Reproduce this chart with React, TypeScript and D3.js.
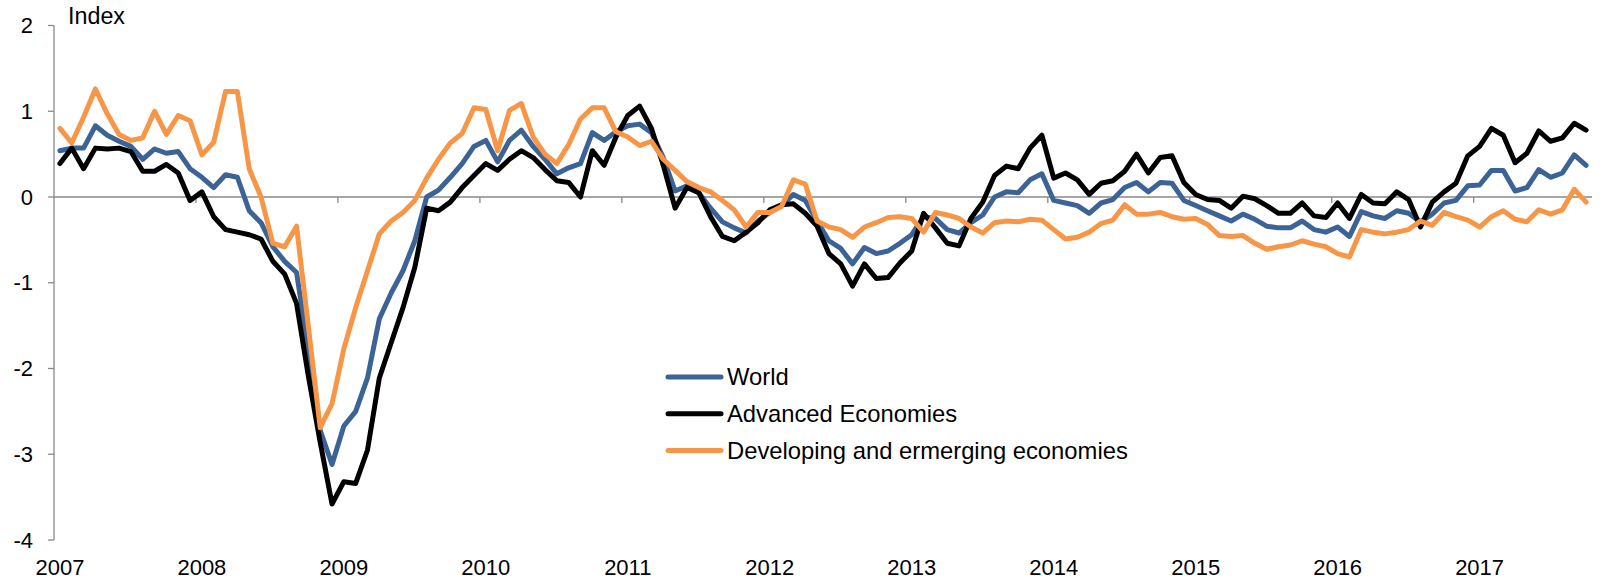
import React from "react";
import * as d3 from "d3";

// monthly index, Jan 2007 .. Oct 2017
const years = ["2007", "2008", "2009", "2010", "2011", "2012", "2013", "2014", "2015", "2016", "2017"];
const yTicks = [2, 1, 0, -1, -2, -3, -4];

const world = [
  0.54, 0.57, 0.57, 0.83, 0.72, 0.65, 0.59, 0.44, 0.56, 0.51, 0.53, 0.33,
  0.23, 0.11, 0.26, 0.23, -0.16, -0.3, -0.58, -0.75, -0.88, -1.78, -2.72, -3.12,
  -2.67, -2.5, -2.11, -1.42, -1.12, -0.86, -0.51, 0.0, 0.08, 0.23, 0.39, 0.59,
  0.66, 0.41, 0.66, 0.78, 0.59, 0.44, 0.27, 0.34, 0.39, 0.75, 0.66, 0.76,
  0.83, 0.85, 0.75, 0.46, 0.07, 0.13, 0.05, -0.13, -0.29, -0.36, -0.42, -0.28,
  -0.18, -0.1, 0.03, -0.04, -0.28, -0.51, -0.6, -0.78, -0.59, -0.66, -0.63, -0.54,
  -0.44, -0.23, -0.25, -0.38, -0.42, -0.3, -0.21, 0.0, 0.06, 0.05, 0.2, 0.27,
  -0.04, -0.07, -0.1, -0.19, -0.07, -0.03, 0.11, 0.17, 0.06, 0.17, 0.16, -0.04,
  -0.1, -0.16, -0.22, -0.28, -0.2, -0.26, -0.34, -0.36, -0.36, -0.28, -0.38, -0.41,
  -0.35, -0.46, -0.17, -0.22, -0.25, -0.16, -0.19, -0.29, -0.2, -0.07, -0.04, 0.13,
  0.14, 0.31, 0.31, 0.07, 0.11, 0.32, 0.23, 0.28, 0.49, 0.37,
];

const advanced = [
  0.39, 0.57, 0.33, 0.57, 0.56, 0.57, 0.53, 0.3, 0.3, 0.38, 0.28, -0.04,
  0.06, -0.23, -0.38, -0.41, -0.44, -0.49, -0.75, -0.9, -1.24, -2.09, -2.86, -3.58,
  -3.32, -3.34, -2.95, -2.11, -1.7, -1.29, -0.82, -0.13, -0.16, -0.06, 0.11, 0.25,
  0.39, 0.31, 0.44, 0.54, 0.46, 0.32, 0.19, 0.17, 0.0, 0.54, 0.37, 0.7,
  0.95, 1.06, 0.8, 0.37, -0.13, 0.11, 0.05, -0.23, -0.46, -0.51, -0.41, -0.3,
  -0.15, -0.09, -0.08, -0.19, -0.34, -0.66, -0.78, -1.04, -0.78, -0.95, -0.94, -0.77,
  -0.63, -0.19, -0.36, -0.54, -0.57, -0.25, -0.06, 0.25, 0.36, 0.33, 0.57, 0.72,
  0.22, 0.28, 0.2, 0.03, 0.16, 0.19, 0.3, 0.5, 0.28, 0.46, 0.48, 0.17,
  0.03, -0.03, -0.04, -0.13, 0.01, -0.02, -0.1, -0.19, -0.19, -0.07, -0.22, -0.24,
  -0.07, -0.25, 0.03, -0.07, -0.08, 0.06, -0.03, -0.35, -0.06, 0.06, 0.16, 0.48,
  0.59, 0.8, 0.72, 0.4, 0.51, 0.77, 0.65, 0.69, 0.86, 0.78,
];

const developing = [
  0.8, 0.63, 0.93, 1.26, 0.97, 0.73, 0.66, 0.69, 1.0, 0.73, 0.95, 0.89,
  0.49, 0.64, 1.23, 1.23, 0.33, 0.0, -0.54, -0.58, -0.34, -1.51, -2.69, -2.41,
  -1.77, -1.29, -0.86, -0.43, -0.28, -0.18, -0.04, 0.22, 0.44, 0.63, 0.74, 1.04,
  1.02, 0.54, 1.01, 1.09, 0.7, 0.5, 0.39, 0.61, 0.91, 1.04, 1.04, 0.76,
  0.7, 0.6, 0.65, 0.44, 0.31, 0.18, 0.11, 0.06, -0.04, -0.15, -0.35, -0.18,
  -0.18, -0.11, 0.2, 0.15, -0.28, -0.35, -0.38, -0.47, -0.35, -0.3, -0.24, -0.23,
  -0.25, -0.41, -0.18, -0.21, -0.25, -0.35, -0.42, -0.3, -0.28, -0.29, -0.26, -0.27,
  -0.38, -0.49, -0.47, -0.41, -0.31, -0.27, -0.09, -0.2, -0.2, -0.18, -0.23, -0.26,
  -0.25, -0.32, -0.45, -0.46, -0.45, -0.54, -0.61, -0.58, -0.56, -0.51, -0.55, -0.58,
  -0.66, -0.7, -0.38, -0.41, -0.43, -0.41, -0.38, -0.28, -0.33, -0.18, -0.23, -0.27,
  -0.35, -0.23, -0.16, -0.26, -0.29, -0.15, -0.2, -0.15, 0.09, -0.06,
];

const seriesNames = ["World", "Advanced Economies", "Developing and ermerging economies"];
const seriesColors = ["#3b6396", "#000000", "#f79646"];

const W = 1614;
const H = 581;
const FONT = "Arial, 'Liberation Sans', sans-serif";
const AXIS = "#898989";

export default function App() {
  const n = world.length;
  const x = d3.scaleLinear().domain([0, n]).range([54, 1592]);
  const y = d3.scaleLinear().domain([-4, 2]).range([540, 25.5]);

  const line = d3
    .line<number>()
    .x((_, i) => x(i + 0.5))
    .y((d) => y(d));

  const all = [world, advanced, developing];
  const yearTicks = d3.range(1, years.length).map((k) => k * 12);

  return (
    <div style={{ position: "absolute", left: 0, top: 0 }}>
      <svg width={W} height={H} style={{ display: "block", background: "#fff" }} fontFamily={FONT}>
        {/* y axis */}
        <line x1={x(0)} x2={x(0)} y1={y(2)} y2={y(-4)} stroke={AXIS} strokeWidth={1.3} />
        {yTicks.map((t) => (
          <g key={t}>
            <line x1={x(0) - 6} x2={x(0)} y1={y(t)} y2={y(t)} stroke={AXIS} strokeWidth={1.3} />
            <text x={33} y={y(t)} dy="0.35em" textAnchor="end" fontSize={22} fill="#000">
              {t}
            </text>
          </g>
        ))}
        <text x={68} y={24} fontSize={23.3} fill="#000">Index</text>

        {/* zero line with year ticks */}
        <line x1={x(0)} x2={x(n)} y1={y(0)} y2={y(0)} stroke={AXIS} strokeWidth={1.3} />
        {yearTicks.map((m) => (
          <line key={m} x1={x(m)} x2={x(m)} y1={y(0)} y2={y(0) + 6} stroke={AXIS} strokeWidth={1.3} />
        ))}
        {years.map((yr, k) => (
          <text key={yr} x={x(k * 12 + 0.5)} y={575} textAnchor="middle" fontSize={22} fill="#000">
            {yr}
          </text>
        ))}

        {/* series */}
        {all.map((s, i) => (
          <path
            key={seriesNames[i]}
            d={line(s) ?? ""}
            fill="none"
            stroke={seriesColors[i]}
            strokeWidth={5}
            strokeLinejoin="round"
            strokeLinecap="round"
          />
        ))}

        {/* legend */}
        {seriesNames.map((name, i) => {
          const ly = 377 + i * 36.7;
          return (
            <g key={name}>
              <line x1={668} x2={721} y1={ly} y2={ly} stroke={seriesColors[i]} strokeWidth={5} strokeLinecap="round" />
              <text x={727} y={ly} dy="0.35em" fontSize={23.8} fill="#000">
                {name}
              </text>
            </g>
          );
        })}
      </svg>
    </div>
  );
}
